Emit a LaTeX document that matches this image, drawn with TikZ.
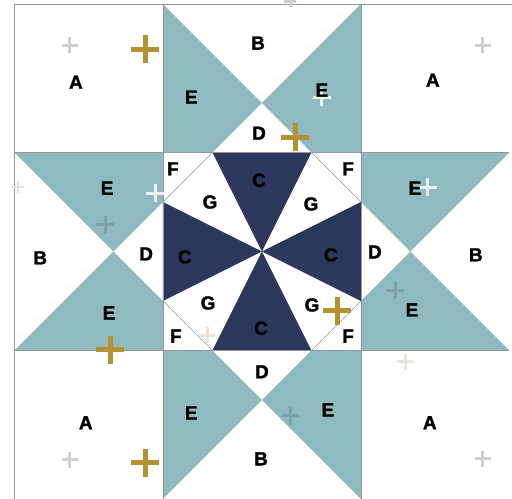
\documentclass[tikz,border=0pt]{standalone}
\usepackage{fontspec}
\setmainfont{Liberation Sans}
\newfontfamily\patchfont{Liberation Sans}[BoldFeatures={FakeBold=1.6}]
\usepackage{tikz}
\definecolor{QuiltTeal}{RGB}{143,186,192}
\definecolor{QuiltNavy}{RGB}{44,55,92}
\definecolor{QuiltGold}{RGB}{180,146,50}
\definecolor{QuiltGray}{RGB}{212,204,206}
\definecolor{QuiltBeige}{RGB}{236,226,214}
\definecolor{TealDark}{RGB}{122,162,168}
\definecolor{SeamGray}{RGB}{150,150,150}
\begin{document}
\begin{tikzpicture}[x=49.5bp, y=49.5bp,
	patch/.style={font=\patchfont\bfseries\fontsize{19}{19}\selectfont, inner sep=0pt},
	seam/.style={SeamGray, line width=0.8bp}]
	\useasboundingbox[fill=white] (-5.293,-5.0) rectangle (5.051,5.081);
	% star points and pinwheel
	\foreach \r in {0,90,180,270} {
		\begin{scope}[rotate=\r]
			\fill[QuiltTeal] (-2,5) -- (0,3) -- (-1,2) -- (-2,2) -- cycle;
			\fill[QuiltTeal] (2,5) -- (0,3) -- (1,2) -- (2,2) -- cycle;
			\fill[QuiltNavy] (0,0) -- (-1,2) -- (1,2) -- cycle;
			\draw[seam, line width=0.5bp] (-1,2) -- (-2,1);
		\end{scope}
	}
	% seams
	\draw[seam] (-2,-5) -- (-2,5) (2,-5) -- (2,5);
	\draw[seam] (-5,-2) -- (5,-2) (-5,2) -- (5,2);
	\draw[seam] (-5,-5) -- (-5,5) -- (5.051,5);
	% fabric print
	\foreach \x/\y/\c/\s/\w in {
		-2.36/4.09/QuiltGold/0.28/5bp, 0.67/2.31/QuiltGold/0.28/5bp,
		-3.07/-1.99/QuiltGold/0.28/5bp, -2.36/-4.27/QuiltGold/0.28/5bp,
		1.52/-1.20/QuiltGold/0.28/5bp,
		-3.88/4.17/QuiltGray/0.16/3bp, 4.46/4.17/QuiltGray/0.16/3bp,
		-3.88/-4.21/QuiltGray/0.16/3bp, 4.46/-4.19/QuiltGray/0.16/3bp,
		0.57/5.05/QuiltGray/0.12/3bp,
		1.21/3.12/white!80!QuiltTeal/0.18/3bp, 3.35/1.30/white!80!QuiltTeal/0.18/3bp,
		-2.16/1.18/white!80!QuiltTeal/0.18/3bp,
		-3.17/0.54/TealDark/0.18/3bp, 2.69/-0.78/TealDark/0.18/3bp,
		0.57/-3.32/TealDark/0.18/3bp,
		-1.11/-1.69/QuiltBeige/0.16/3bp, 2.89/-2.23/QuiltBeige/0.16/3bp,
		-4.93/1.30/QuiltBeige/0.12/2bp} {
		\draw[\c, line width=\w] (\x-\s,\y) -- (\x+\s,\y) (\x,\y-\s) -- (\x,\y+\s);
	}
	% labels
	\node[patch] (a1) at (-3.76,3.42) {A};
	\node[patch] (a2) at (3.45,3.46) {A};
	\node[patch] (a3) at (-3.56,-3.46) {A};
	\node[patch] (a4) at (3.39,-3.46) {A};
	\node[patch] (b1) at (-0.08,4.21) {B};
	\node[patch] (b2) at (-4.48,-0.13) {B};
	\node[patch] (b3) at (4.32,-0.07) {B};
	\node[patch] (b4) at (-0.02,-4.19) {B};
	\node[patch] (c1) at (-0.06,1.44) {C};
	\node[patch] (c2) at (-1.56,-0.11) {C};
	\node[patch] (c3) at (1.39,-0.07) {C};
	\node[patch] (c4) at (-0.02,-1.55) {C};
	\node[patch] (d1) at (-0.06,2.39) {D};
	\node[patch] (d2) at (-2.34,-0.05) {D};
	\node[patch] (d3) at (2.28,-0.01) {D};
	\node[patch] (d4) at (0,-2.43) {D};
	\node[patch] (e1) at (-1.43,3.12) {E};
	\node[patch] (e2) at (1.21,3.26) {E};
	\node[patch] (e3) at (-3.13,1.28) {E};
	\node[patch] (e4) at (3.09,1.28) {E};
	\node[patch] (e5) at (-3.09,-1.24) {E};
	\node[patch] (e6) at (3.03,-1.18) {E};
	\node[patch] (e7) at (-1.43,-3.26) {E};
	\node[patch] (e8) at (1.33,-3.20) {E};
	\node[patch] (f1) at (-1.80,1.67) {F};
	\node[patch] (f2) at (1.74,1.67) {F};
	\node[patch] (f3) at (-1.74,-1.71) {F};
	\node[patch] (f4) at (1.74,-1.71) {F};
	\node[patch] (g1) at (-1.05,1.00) {G};
	\node[patch] (g2) at (0.99,0.96) {G};
	\node[patch] (g3) at (-1.09,-1.04) {G};
	\node[patch] (g4) at (1.01,-1.08) {G};
\end{tikzpicture}
\end{document}
